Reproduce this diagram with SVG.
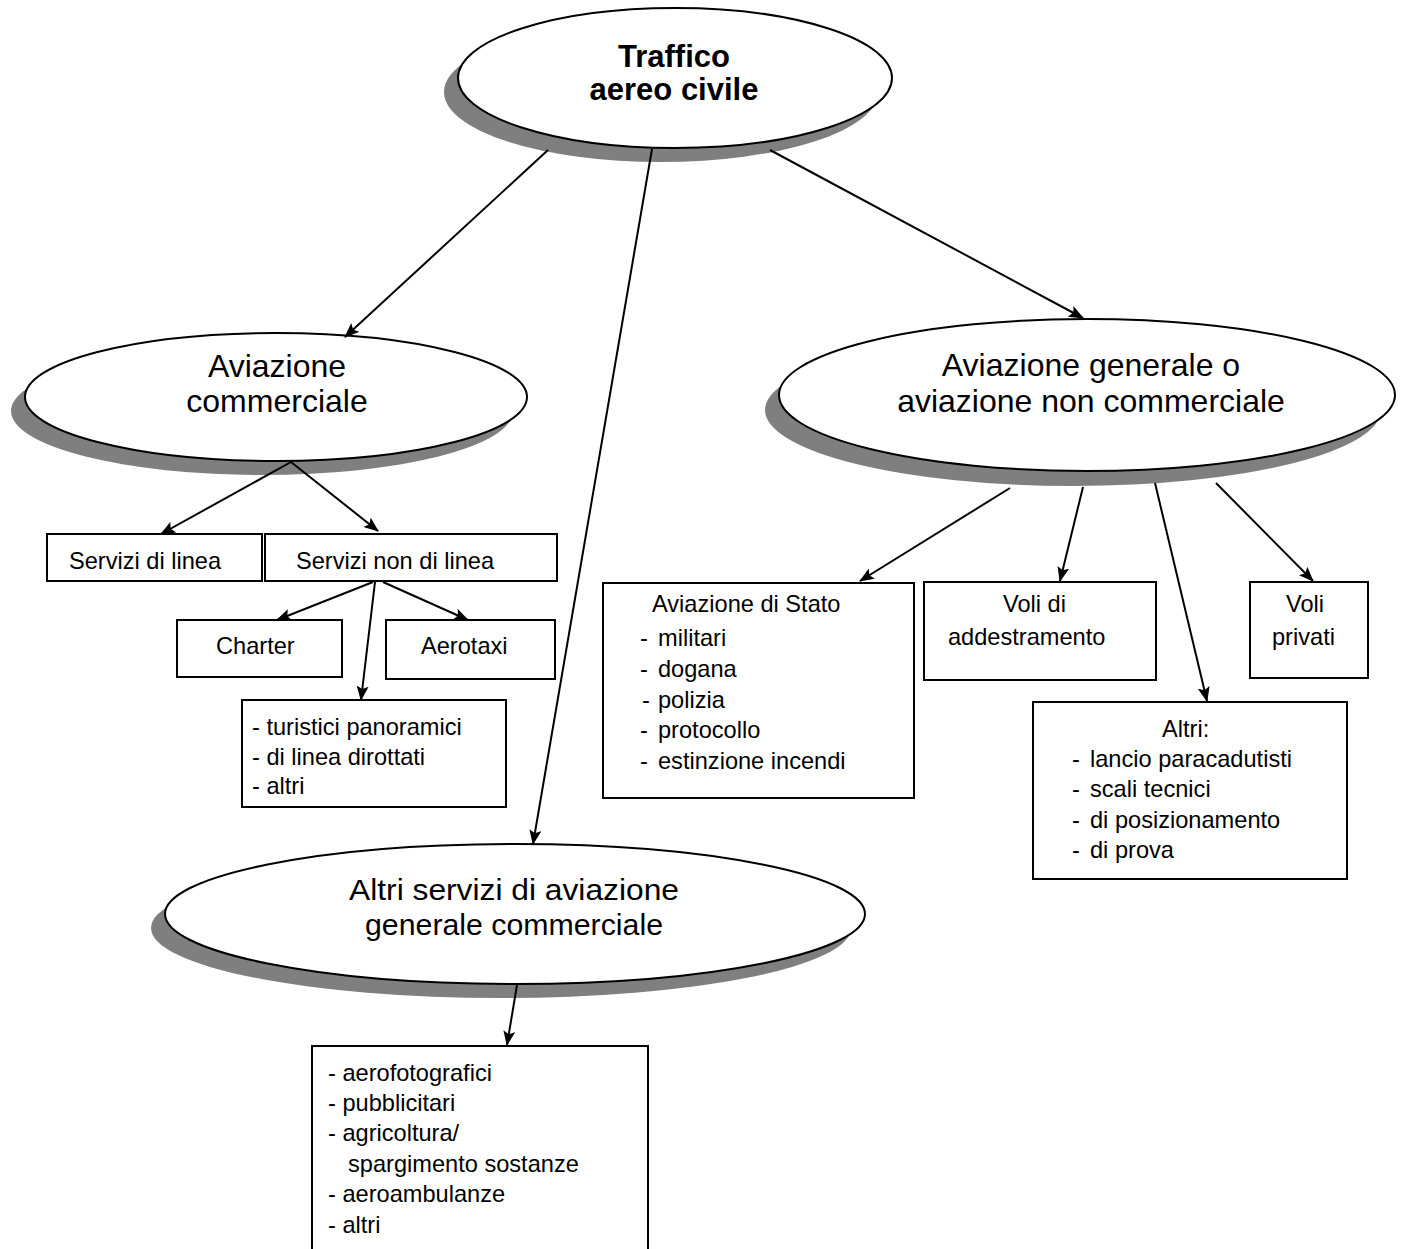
<svg xmlns="http://www.w3.org/2000/svg" width="1404" height="1249" viewBox="0 0 1404 1249">
<style>
.bg{fill:#fff}
.sh{fill:#7f7f7f}
.el{fill:#fff;stroke:#000;stroke-width:2}
.bx{fill:#fff;stroke:#000;stroke-width:2}
.t{font-family:"Liberation Sans",Arial,sans-serif;fill:#000}
.big{font-size:32px}
.cond{font-size:30px}
.tb{font-size:31px;font-weight:bold}
.sm{font-size:23.6px}
.mid{text-anchor:middle}
.cn line{stroke:#000;stroke-width:2;marker-end:url(#ah)}
</style>
<defs>
<marker id="ah" markerWidth="15" markerHeight="12" refX="14" refY="6" orient="auto" markerUnits="userSpaceOnUse">
<path d="M0,0 L15,6 L0,12 L3,6 z" fill="#000"/>
</marker>
</defs>
<rect class="bg" x="0" y="0" width="1404" height="1249"/>

<g id="n-traffico">
<ellipse class="sh" cx="661" cy="92" rx="217" ry="70"/>
<ellipse class="el" cx="675" cy="78" rx="217" ry="70"/>
<text class="t tb mid" x="674" y="67">Traffico</text>
<text class="t tb mid" x="674" y="100">aereo civile</text>
</g>

<g id="n-commerciale">
<ellipse class="sh" cx="262" cy="411" rx="251" ry="64"/>
<ellipse class="el" cx="276" cy="397" rx="251" ry="64"/>
<text class="t big mid" x="277" y="377">Aviazione</text>
<text class="t big mid" x="277" y="412">commerciale</text>
</g>

<g id="n-generale">
<ellipse class="sh" cx="1073" cy="410" rx="308" ry="76"/>
<ellipse class="el" cx="1087" cy="395" rx="308" ry="76"/>
<text class="t big mid" x="1091" y="376">Aviazione generale o</text>
<text class="t big mid" x="1091" y="412">aviazione non commerciale</text>
</g>

<g id="n-altri-servizi">
<ellipse class="sh" cx="501" cy="928" rx="350" ry="70"/>
<ellipse class="el" cx="515" cy="914" rx="350" ry="70"/>
<text class="t cond mid" x="514" y="900" textLength="330" lengthAdjust="spacingAndGlyphs">Altri servizi di aviazione</text>
<text class="t cond mid" x="514" y="935" textLength="298" lengthAdjust="spacingAndGlyphs">generale commerciale</text>
</g>

<g id="n-servizi-linea">
<rect class="bx" x="47" y="534" width="215" height="47"/>
<text class="t sm" x="69" y="569">Servizi di linea</text>
</g>

<g id="n-servizi-non-linea">
<rect class="bx" x="265" y="534" width="292" height="47"/>
<text class="t sm" x="296" y="569">Servizi non di linea</text>
</g>

<g id="n-charter">
<rect class="bx" x="177" y="620" width="165" height="57"/>
<text class="t sm" x="216" y="654">Charter</text>
</g>

<g id="n-aerotaxi">
<rect class="bx" x="386" y="620" width="169" height="59"/>
<text class="t sm" x="421" y="654">Aerotaxi</text>
</g>

<g id="n-turistici">
<rect class="bx" x="242" y="700" width="264" height="107"/>
<text class="t sm" x="252" y="735">- turistici panoramici</text>
<text class="t sm" x="252" y="765">- di linea dirottati</text>
<text class="t sm" x="252" y="794">- altri</text>
</g>

<g id="n-stato">
<rect class="bx" x="603" y="583" width="311" height="215"/>
<text class="t sm" x="652" y="612">Aviazione di Stato</text>
<text class="t sm" x="640" y="646">-</text><text class="t sm" x="658" y="646">militari</text>
<text class="t sm" x="640" y="677">-</text><text class="t sm" x="658" y="677">dogana</text>
<text class="t sm" x="642" y="708">-</text><text class="t sm" x="658" y="708">polizia</text>
<text class="t sm" x="640" y="738">-</text><text class="t sm" x="658" y="738">protocollo</text>
<text class="t sm" x="640" y="769">-</text><text class="t sm" x="658" y="769">estinzione incendi</text>
</g>

<g id="n-addestramento">
<rect class="bx" x="924" y="582" width="232" height="98"/>
<text class="t sm" x="1003" y="612">Voli di</text>
<text class="t sm" x="948" y="645">addestramento</text>
</g>

<g id="n-privati">
<rect class="bx" x="1250" y="582" width="118" height="96"/>
<text class="t sm" x="1286" y="612">Voli</text>
<text class="t sm" x="1272" y="645">privati</text>
</g>

<g id="n-altri">
<rect class="bx" x="1033" y="702" width="314" height="177"/>
<text class="t sm" x="1162" y="737">Altri:</text>
<text class="t sm" x="1072" y="767">-</text><text class="t sm" x="1090" y="767">lancio paracadutisti</text>
<text class="t sm" x="1072" y="797">-</text><text class="t sm" x="1090" y="797">scali tecnici</text>
<text class="t sm" x="1072" y="828">-</text><text class="t sm" x="1090" y="828">di posizionamento</text>
<text class="t sm" x="1072" y="858">-</text><text class="t sm" x="1090" y="858">di prova</text>
</g>

<g id="n-servizi-elenco">
<rect class="bx" x="312" y="1046" width="336" height="230"/>
<text class="t sm" x="328" y="1081">- aerofotografici</text>
<text class="t sm" x="328" y="1111">- pubblicitari</text>
<text class="t sm" x="328" y="1141">- agricoltura/</text>
<text class="t sm" x="348" y="1172">spargimento sostanze</text>
<text class="t sm" x="328" y="1202">- aeroambulanze</text>
<text class="t sm" x="328" y="1233">- altri</text>
</g>

<g id="connectors" class="cn">
<line x1="548" y1="150" x2="345" y2="337"/>
<line x1="652" y1="149" x2="533" y2="844"/>
<line x1="770" y1="150" x2="1083" y2="318"/>
<line x1="291" y1="462" x2="161" y2="534"/>
<line x1="291" y1="462" x2="378" y2="531"/>
<line x1="373" y1="582" x2="277" y2="620"/>
<line x1="383" y1="582" x2="468" y2="620"/>
<line x1="375" y1="582" x2="361" y2="700"/>
<line x1="1010" y1="488" x2="860" y2="581"/>
<line x1="1083" y1="487" x2="1060" y2="581"/>
<line x1="1155" y1="483" x2="1207" y2="701"/>
<line x1="1216" y1="483" x2="1313" y2="581"/>
<line x1="517" y1="985" x2="507" y2="1045"/>
</g>
</svg>
